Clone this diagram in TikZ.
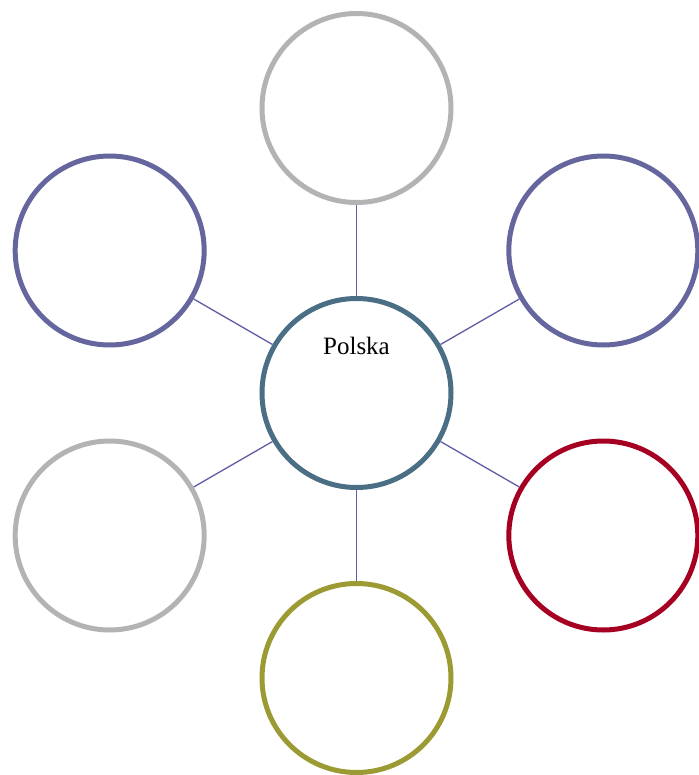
\documentclass[tikz,border=0pt]{standalone}
\usepackage{fontspec}
\setmainfont{Liberation Serif}
\usetikzlibrary{calc, math}
\definecolor{hubblue}{RGB}{74,110,132}
\definecolor{ringpurple}{RGB}{102,102,158}
\definecolor{ringred}{RGB}{165,0,33}
\definecolor{ringolive}{RGB}{156,154,51}
\definecolor{ringgrey}{RGB}{179,179,179}
\definecolor{linkpurple}{RGB}{98,95,168}

\begin{document}
\begin{tikzpicture}[x=0.75pt, y=0.75pt,
  ring/.style={circle, draw, line width=3.75pt, minimum size=141.75pt, inner sep=0pt},
  link/.style={draw=linkpurple, line width=1pt}]
\tikzmath{
\R=285;
}
\useasboundingbox (-356.5,-382) rectangle (342.5,393);

\node[ring, draw=hubblue] (hub) at (0,0) {};
\node[font=\fontsize{18.75}{22}\selectfont] (title) at ($(hub.north)+(0,-50)$) {Polska};

\node[ring, draw=ringgrey] (top) at (90:\R) {};
\node[ring, draw=ringpurple] (upright) at (30:\R) {};
\node[ring, draw=ringred] (lowright) at (-30:\R) {};
\node[ring, draw=ringolive] (bottom) at (-90:\R) {};
\node[ring, draw=ringgrey] (lowleft) at (210:\R) {};
\node[ring, draw=ringpurple] (upleft) at (150:\R) {};

\draw[link] (hub) -- (top);
\draw[link] (hub) -- (upright);
\draw[link] (hub) -- (lowright);
\draw[link] (hub) -- (bottom);
\draw[link] (hub) -- (lowleft);
\draw[link] (hub) -- (upleft);

\end{tikzpicture}
\end{document}
